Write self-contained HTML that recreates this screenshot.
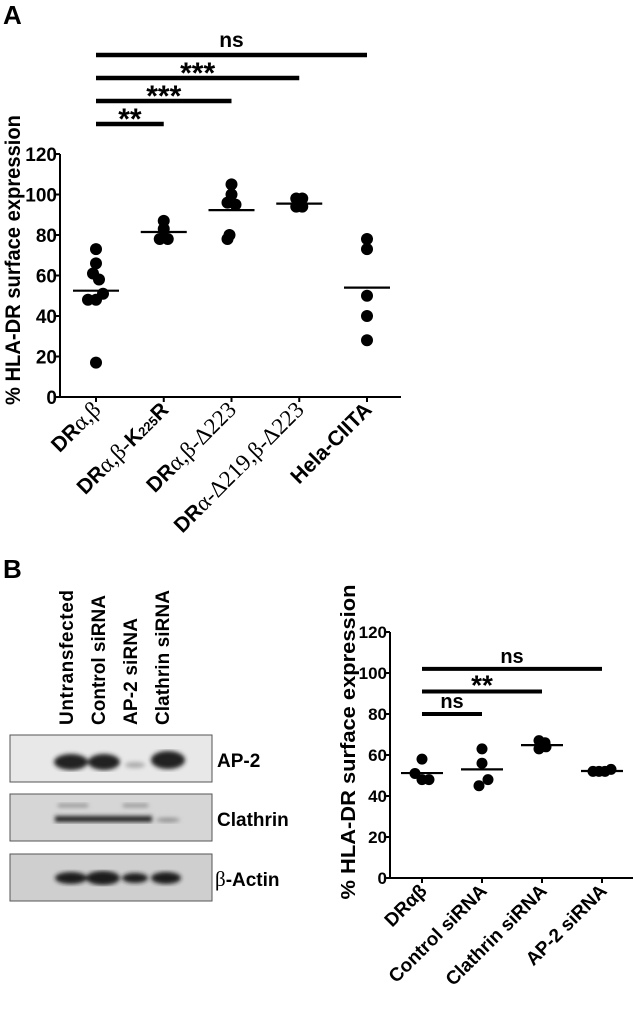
<!DOCTYPE html>
<html><head><meta charset="utf-8"><style>
body{margin:0;background:#fff}
svg{display:block;font-family:"Liberation Sans",sans-serif;font-weight:bold}
</style></head><body>
<svg width="633" height="1016" viewBox="0 0 633 1016">
<text x="3" y="24" font-size="26">A</text>
<text x="3" y="578" font-size="26">B</text>
<g id="topChart"></g>
<g id="botChart"></g>
<g>
 <defs>
  <filter id="blur"><feGaussianBlur stdDeviation="2.2"/></filter>
 </defs>
 <g font-size="19">
  <text transform="translate(73,725) rotate(-90)" textLength="135">Untransfected</text>
  <text transform="translate(105,725) rotate(-90)" textLength="130">Control siRNA</text>
  <text transform="translate(137,725) rotate(-90)" textLength="107">AP-2 siRNA</text>
  <text transform="translate(169,725) rotate(-90)" textLength="135">Clathrin siRNA</text>
 </g>
 <rect x="10" y="735" width="202" height="47" fill="#e8e8e8" stroke="#555"/>
 <g filter="url(#blur)" fill="#222">
  <ellipse cx="71" cy="762" rx="17" ry="8"/>
  <ellipse cx="104" cy="762" rx="16" ry="8"/>
  <ellipse cx="135" cy="765" rx="10" ry="3" fill="#aaa"/>
  <ellipse cx="168" cy="760" rx="17" ry="9"/>
 </g>
 <rect x="10" y="794" width="202" height="47" fill="#d6d6d6" stroke="#555"/>
 <g filter="url(#blur)" fill="#222">
  <rect x="55" y="816" width="97" height="6"/>
  <rect x="58" y="804" width="30" height="3" fill="#888"/>
  <rect x="123" y="804" width="25" height="3" fill="#888"/>
  <ellipse cx="168" cy="820" rx="12" ry="2" fill="#888"/>
 </g>
 <rect x="10" y="854" width="202" height="47" fill="#cfcfcf" stroke="#555"/>
 <g filter="url(#blur)" fill="#1a1a1a">
  <ellipse cx="71" cy="878" rx="16" ry="6"/>
  <ellipse cx="103" cy="878" rx="17" ry="7"/>
  <ellipse cx="135" cy="878" rx="13" ry="5"/>
  <ellipse cx="166" cy="878" rx="15" ry="6"/>
 </g>
 <text x="217" y="767" font-size="19">AP-2</text>
 <text x="217" y="826" font-size="19">Clathrin</text>
 <text x="215" y="886" font-size="19"><tspan font-family="Liberation Serif" font-weight="normal" font-size="21">β</tspan>-Actin</text>
</g>
</svg>
<script>
const NS="http://www.w3.org/2000/svg";
function mk(parent,tag,attrs,txt){const e=document.createElementNS(NS,tag);for(const k in attrs)e.setAttribute(k,attrs[k]);if(txt!==undefined)e.textContent=txt;parent.appendChild(e);return e;}

// ---- Chart A data ----
const aCategories=["DRα,β","DRα,β-K225R","DRα,β-Δ223","DRα-Δ219,β-Δ223","Hela-CIITA"];
const aPoints=[[73,66,61,58,51,48,48,17],[87,83,78,78],[105,100,96,95,80,78],[98,98,94,94],[78,73,50,40,28]];
const aOffsets=[[0,0,-3,3,7,-8,0,0],[0,0,-4,4],[0,0,-4,4,-2,-4],[-3,3,-3,3],[0,0,0,0,0]];
const aMeans=[52.5,81.5,92.3,95.5,54];
const aTicks=[0,20,40,60,80,100,120];
const aSig=[{to:1,label:"**"},{to:2,label:"***"},{to:3,label:"***"},{to:4,label:"ns"}];

// ---- Chart B data ----
const bCategories=["DRαβ","Control siRNA","Clathrin siRNA","AP-2 siRNA"];
const bPoints=[[58,51,48,48],[63,56,48,45],[67,66,63,64],[52,52,52,53]];
const bOffsets=[[0,-7,0,7],[0,0,6,-3],[-3,3,-3,4],[-9,-3,3,9]];
const bMeans=[51.2,53,64.8,52.2];
const bTicks=[0,20,40,60,80,100,120];
const bSig=[{to:1,y:80,label:"ns"},{to:2,y:91,label:"**"},{to:3,y:102,label:"ns"}];

function drawAxes(g,o){
  const y=v=>o.y0-(v/120)*(o.y0-o.y120);
  const x=i=>o.x0+i*o.dx;
  mk(g,"line",{x1:o.ax,y1:o.y120,x2:o.ax,y2:o.y0,stroke:"#000","stroke-width":2,});
  mk(g,"line",{x1:o.ax,y1:o.y0,x2:o.axEnd,y2:o.y0,stroke:"#000","stroke-width":2,});
  o.ticks.forEach(t=>{
    mk(g,"line",{x1:o.ax-4,y1:y(t),x2:o.ax,y2:y(t),stroke:"#000","stroke-width":2});
    const tl=mk(g,"text",{x:o.ax-3,y:y(t)+o.fs*0.36,"font-size":o.fs,"text-anchor":"end"},String(t));
    
    
  });
  o.cats.forEach((c,i)=>{
    mk(g,"line",{x1:x(i),y1:o.y0,x2:x(i),y2:o.y0+5,stroke:"#000","stroke-width":2});
    const t=mk(g,"text",{transform:`translate(${x(i)+6},${o.y0+14}) rotate(-45)`,"font-size":o.lfs,"text-anchor":"end"});
    t.innerHTML=o.labelHTML?o.labelHTML[i]:c;
    
    
  });
  o.pts.forEach((arr,i)=>{
    arr.forEach((v,j)=>{
      const c=mk(g,"circle",{cx:x(i)+o.offs[i][j],cy:y(v),r:o.r,fill:"#000"});
      
      
    });
    const m=mk(g,"line",{x1:x(i)-o.mw,x2:x(i)+o.mw,y1:y(o.means[i]),y2:y(o.means[i]),stroke:"#000","stroke-width":2.2});
    
    
  });
  const yt=mk(g,"text",{transform:`translate(${o.titleX},${o.titleY}) rotate(-90)`,"font-size":o.tfs,"text-anchor":"middle",textLength:o.titleLen,lengthAdjust:"spacingAndGlyphs"},"% HLA-DR surface expression");
  
  
  return {x,y};
}

const ga=document.getElementById("topChart");
const A=drawAxes(ga,{ax:60,axEnd:401,y0:397,y120:154,x0:96,dx:67.75,ticks:aTicks,cats:aCategories,pts:aPoints,offs:aOffsets,means:aMeans,r:6,mw:23,fs:19,lfs:21,tfs:21,titleX:20,titleY:260,titleLen:290,
  labelHTML:["DR<tspan font-family='Liberation Serif' font-weight='normal' font-size='23'>α,β</tspan>","DR<tspan font-family='Liberation Serif' font-weight='normal' font-size='23'>α,β-</tspan>K<tspan font-size='13'>225</tspan>R","DR<tspan font-family='Liberation Serif' font-weight='normal' font-size='23'>α,β-Δ223</tspan>","DR<tspan font-family='Liberation Serif' font-weight='normal' font-size='23'>α-Δ219,β-Δ223</tspan>","Hela-CIITA"]});
aSig.forEach((s,k)=>{
  const yy=124-k*23;
  const b=mk(ga,"line",{x1:A.x(0),x2:A.x(s.to),y1:yy,y2:yy,stroke:"#000","stroke-width":4.5});
  
  
  const star=s.label.indexOf("*")>=0;
  const t=mk(ga,"text",{x:(A.x(0)+A.x(s.to))/2,y:star?yy+5:yy-8,"font-size":star?30:21,"text-anchor":"middle"},s.label);
  
  
});

const gb=document.getElementById("botChart");
const B=drawAxes(gb,{ax:390,axEnd:633,y0:878,y120:632,x0:422,dx:60,ticks:bTicks,cats:bCategories,pts:bPoints,offs:bOffsets,means:bMeans,r:5.5,mw:21,fs:17,lfs:19,tfs:20,titleX:355,titleY:742,titleLen:315});
bSig.forEach(s=>{
  const yy=B.y(s.y);
  const b=mk(gb,"line",{x1:B.x(0),x2:B.x(s.to),y1:yy,y2:yy,stroke:"#000","stroke-width":4});
  
  
  const star=s.label.indexOf("*")>=0;
  const t=mk(gb,"text",{x:(B.x(0)+B.x(s.to))/2,y:star?yy+3:yy-6,"font-size":star?28:20,"text-anchor":"middle"},s.label);
  
  
});
</script>
</body></html>
